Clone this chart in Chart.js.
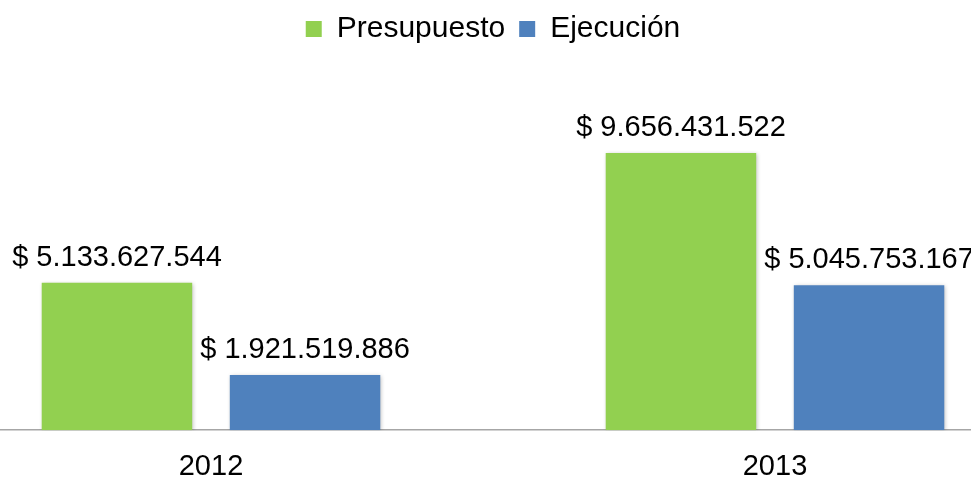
<!DOCTYPE html>
<html>
<head>
<meta charset="utf-8">
<script src="https://cdn.jsdelivr.net/npm/chart.js@4/dist/chart.umd.min.js"></script>
<style>
    html, body { margin: 0; padding: 0; background: #fff; overflow: hidden; }
    #wrap { position: absolute; left: -71px; top: 0; width: 1128px; height: 503px; }
</style>
</head>
<body>
<div id="wrap"><canvas id="budgetChart"></canvas></div>
<script>
// Chart data
const years = ['2012', '2013'];
const presupuesto = [5133627544, 9656431522];
const ejecucion = [1921519886, 5045753167];

const FONT = '"Liberation Sans", Arial, sans-serif';

function formatPesos(v) {
    return '$ ' + String(v).replace(/\B(?=(\d{3})+(?!\d))/g, '.');
}

// Draw value labels above each bar
const valueLabels = {
    id: 'valueLabels',
    afterDatasetsDraw(chart) {
        const ctx = chart.ctx;
        ctx.save();
        ctx.font = '29px ' + FONT;
        ctx.fillStyle = '#000';
        ctx.textAlign = 'center';
        ctx.textBaseline = 'alphabetic';
        chart.data.datasets.forEach((ds, i) => {
            chart.getDatasetMeta(i).data.forEach((bar, j) => {
                ctx.fillText(formatPesos(ds.data[j]), bar.x, bar.y - 17);
            });
        });
        ctx.restore();
    }
};

// Soft shadow under bars
const barShadow = {
    id: 'barShadow',
    beforeDatasetsDraw(chart) {
        const ctx = chart.ctx;
        ctx.save();
        ctx.shadowColor = 'rgba(0,0,0,0.25)';
        ctx.shadowBlur = 4;
        ctx.shadowOffsetX = 1;
        ctx.shadowOffsetY = 1;
    },
    afterDatasetsDraw(chart) {
        chart.ctx.restore();
    }
};

const ctx = document.getElementById('budgetChart').getContext('2d');

new Chart(ctx, {
    type: 'bar',
    data: {
        labels: years,
        datasets: [
            {
                label: 'Presupuesto',
                data: presupuesto,
                backgroundColor: '#92D050'
            },
            {
                label: 'Ejecución',
                data: ejecucion,
                backgroundColor: '#4F81BD'
            }
        ]
    },
    options: {
        responsive: true,
        maintainAspectRatio: false,
        animation: false,
        categoryPercentage: 0.667,
        barPercentage: 0.8,
        layout: { padding: 0 },
        plugins: {
            legend: {
                position: 'top',
                labels: {
                    boxWidth: 16,
                    boxHeight: 16,
                    padding: 14,
                    color: '#000',
                    font: { family: FONT, size: 30 }
                }
            },
            tooltip: { enabled: false }
        },
        scales: {
            x: {
                grid: { display: false, drawTicks: false },
                border: { display: true, color: '#A6A6A6', width: 1.5 },
                ticks: {
                    padding: 19,
                    color: '#000',
                    font: { family: FONT, size: 29 }
                }
            },
            y: {
                display: false,
                min: 0,
                max: 13100000000
            }
        }
    },
    plugins: [barShadow, valueLabels]
});
</script>
</body>
</html>
